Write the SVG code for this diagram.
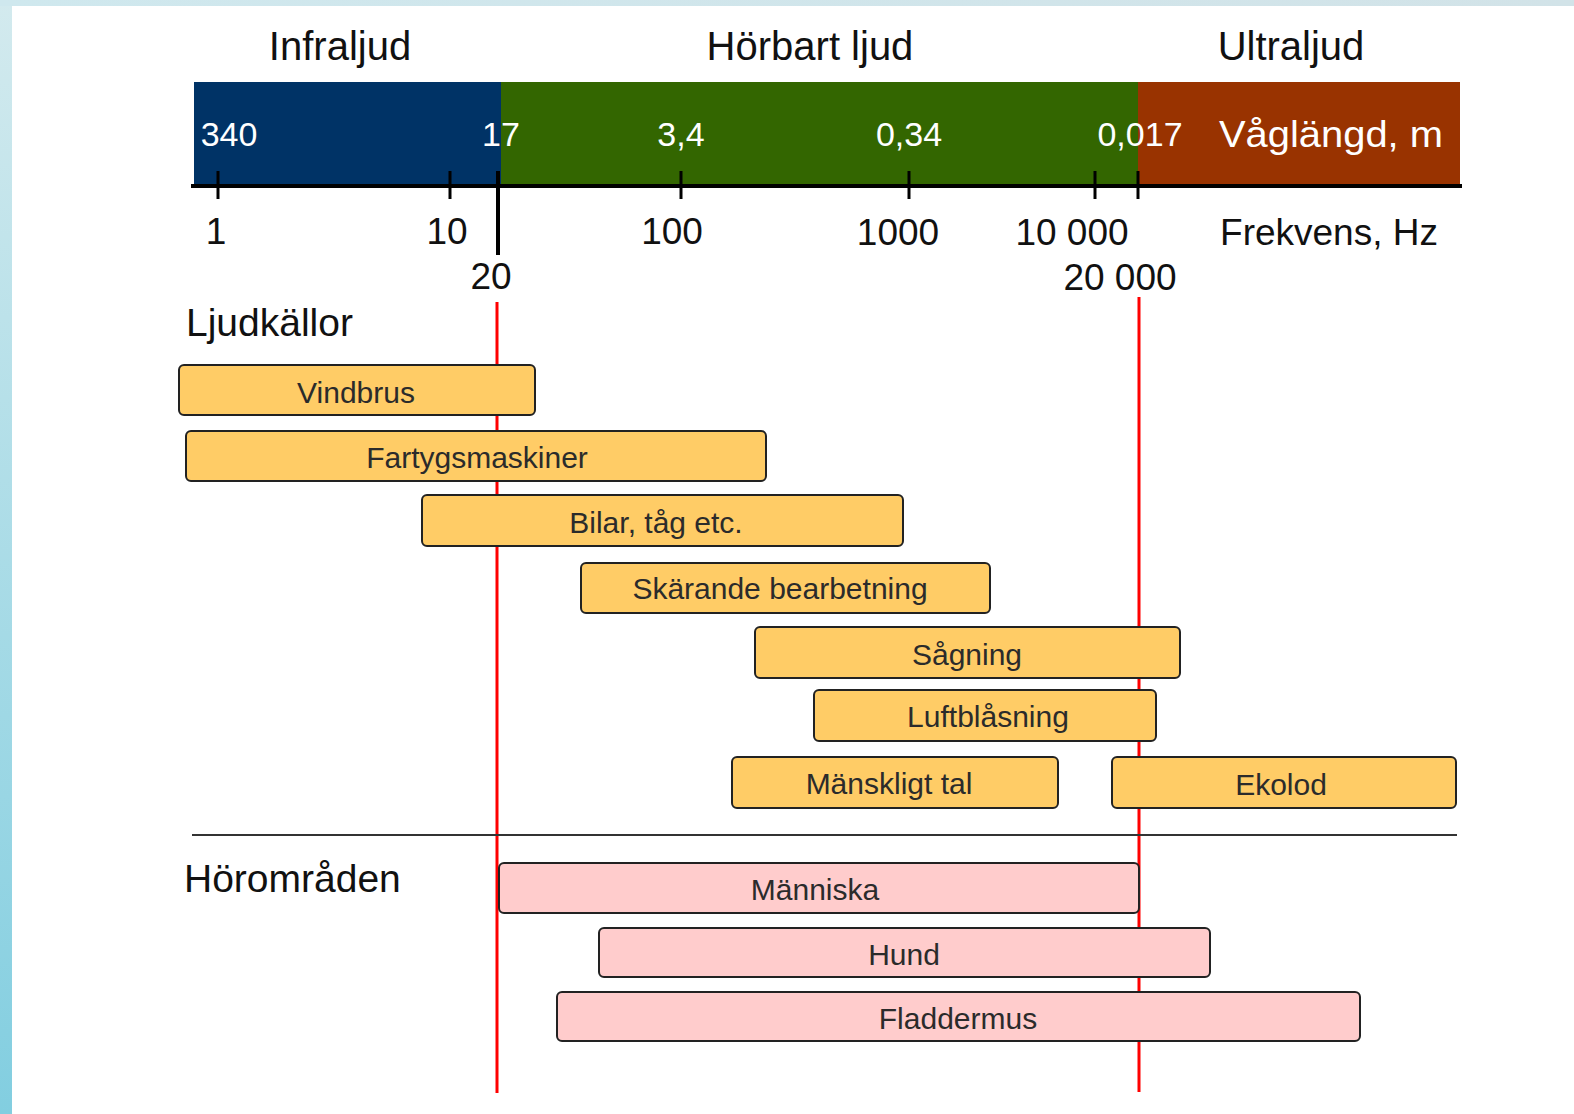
<svg xmlns="http://www.w3.org/2000/svg" width="1574" height="1114" viewBox="0 0 1574 1114">
  <defs>
    <linearGradient id="bgv" x1="0" y1="0" x2="0" y2="1">
      <stop offset="0" stop-color="#d3eaee"/>
      <stop offset="1" stop-color="#82cee0"/>
    </linearGradient>
    <linearGradient id="bgh" x1="0" y1="0" x2="1" y2="0">
      <stop offset="0" stop-color="#cfe8ee"/>
      <stop offset="1" stop-color="#d2e3e8"/>
    </linearGradient>
  </defs>
  <style>
    .hdr { font-family: "Liberation Sans", Arial, sans-serif; font-size: 40px; fill: #111; text-anchor: middle; }
    .sec { font-family: "Liberation Sans", Arial, sans-serif; font-size: 39px; fill: #111; }
    .wl { font-family: "Liberation Sans", Arial, sans-serif; font-size: 34px; fill: #fff; text-anchor: middle; }
    .ax { font-family: "Liberation Sans", Arial, sans-serif; font-size: 37px; fill: #111; text-anchor: middle; }
    .lbl { font-family: "Liberation Sans", Arial, sans-serif; font-size: 30px; fill: #2b2b2b; text-anchor: middle; }
    .src { fill: #ffcc66; stroke: #222; stroke-width: 2; }
    .hear { fill: #ffcccc; stroke: #222; stroke-width: 2; }
    .tick { stroke: #000; stroke-width: 3; }
    .red { stroke: #ff0000; stroke-width: 3; }
  </style>

  <!-- background frame -->
  <rect x="0" y="0" width="1574" height="1114" fill="url(#bgv)"/>
  <rect x="0" y="0" width="1574" height="6" fill="url(#bgh)"/>
  <rect x="12" y="6" width="1562" height="1108" fill="#ffffff"/>

  <!-- spectrum bar -->
  <g id="spectrum">
    <rect x="194" y="82" width="307" height="103" fill="#003366"/>
    <rect x="501" y="82" width="637" height="103" fill="#336600"/>
    <rect x="1138" y="82" width="322" height="103" fill="#993300"/>
    <text class="hdr" x="340" y="60">Infraljud</text>
    <text class="hdr" x="810" y="60">Hörbart ljud</text>
    <text class="hdr" x="1291" y="60">Ultraljud</text>
    <text class="wl" x="229" y="146">340</text>
    <text class="wl" x="501" y="146">17</text>
    <text class="wl" x="681" y="146">3,4</text>
    <text class="wl" x="909" y="146">0,34</text>
    <text class="wl" x="1140" y="146">0,017</text>
    <text class="wl" x="1331" y="147" style="font-size:37px" textLength="224" lengthAdjust="spacingAndGlyphs">Våglängd, m</text>
  </g>

  <!-- axis -->
  <g id="axis">
    <line x1="191" y1="186" x2="1462" y2="186" stroke="#000" stroke-width="4"/>
    <line class="tick" x1="218" y1="171" x2="218" y2="199"/>
    <line class="tick" x1="450" y1="171" x2="450" y2="199"/>
    <line x1="498" y1="171" x2="498" y2="255" stroke="#000" stroke-width="4"/>
    <line class="tick" x1="681" y1="171" x2="681" y2="199"/>
    <line class="tick" x1="909" y1="171" x2="909" y2="199"/>
    <line class="tick" x1="1095" y1="171" x2="1095" y2="199"/>
    <line class="tick" x1="1138" y1="171" x2="1138" y2="199"/>
    <text class="ax" x="216" y="244">1</text>
    <text class="ax" x="447" y="244">10</text>
    <text class="ax" x="672" y="244">100</text>
    <text class="ax" x="898" y="245">1000</text>
    <text class="ax" x="1072" y="245">10 000</text>
    <text class="ax" x="1329" y="245">Frekvens, Hz</text>
    <text class="ax" x="491" y="289">20</text>
    <text class="ax" x="1120" y="290">20 000</text>
  </g>

  <!-- guide lines -->
  <g id="connectors">
    <line class="red" x1="497" y1="302" x2="497" y2="1093"/>
    <line class="red" x1="1139" y1="297" x2="1139" y2="1092"/>
    <line x1="192" y1="835" x2="1457" y2="835" stroke="#333" stroke-width="2"/>
  </g>

  <text class="sec" x="186" y="336">Ljudkällor</text>
  <text class="sec" x="184" y="892">Hörområden</text>

  <!-- sound sources -->
  <g id="vindbrus"><rect class="src" x="179" y="365" width="356" height="50" rx="5"/><text class="lbl" x="356" y="403">Vindbrus</text></g>
  <g id="fartygsmaskiner"><rect class="src" x="186" y="431" width="580" height="50" rx="5"/><text class="lbl" x="477" y="468">Fartygsmaskiner</text></g>
  <g id="bilar"><rect class="src" x="422" y="495" width="481" height="51" rx="5"/><text class="lbl" x="656" y="533">Bilar, tåg etc.</text></g>
  <g id="skarande"><rect class="src" x="581" y="563" width="409" height="50" rx="5"/><text class="lbl" x="780" y="599">Skärande bearbetning</text></g>
  <g id="sagning"><rect class="src" x="755" y="627" width="425" height="51" rx="5"/><text class="lbl" x="967" y="665">Sågning</text></g>
  <g id="luftblasning"><rect class="src" x="814" y="690" width="342" height="51" rx="5"/><text class="lbl" x="988" y="727">Luftblåsning</text></g>
  <g id="manskligt-tal"><rect class="src" x="732" y="757" width="326" height="51" rx="5"/><text class="lbl" x="889" y="794">Mänskligt tal</text></g>
  <g id="ekolod"><rect class="src" x="1112" y="757" width="344" height="51" rx="5"/><text class="lbl" x="1281" y="795">Ekolod</text></g>

  <!-- hearing ranges -->
  <g id="manniska"><rect class="hear" x="499" y="863" width="640" height="50" rx="5"/><text class="lbl" x="815" y="900">Människa</text></g>
  <g id="hund"><rect class="hear" x="599" y="928" width="611" height="49" rx="5"/><text class="lbl" x="904" y="965">Hund</text></g>
  <g id="fladdermus"><rect class="hear" x="557" y="992" width="803" height="49" rx="5"/><text class="lbl" x="958" y="1029">Fladdermus</text></g>
</svg>
